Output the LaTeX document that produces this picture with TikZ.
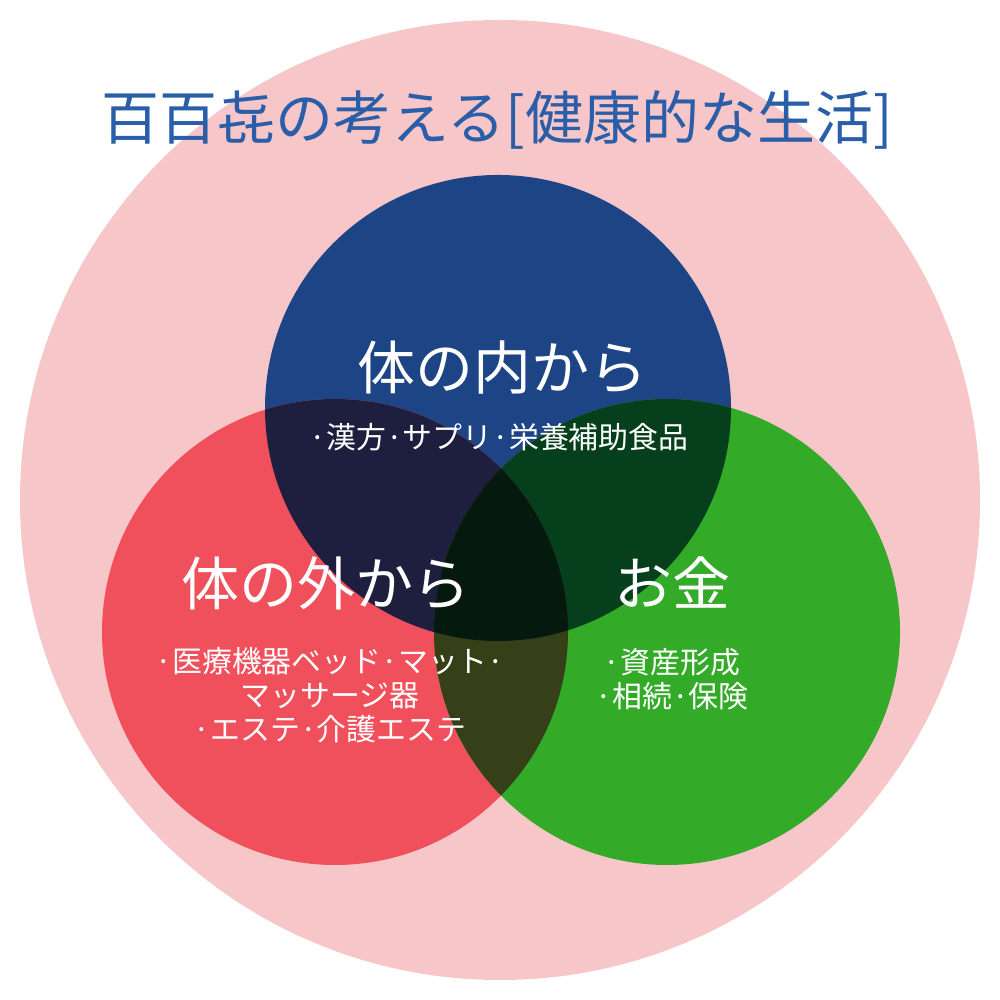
\documentclass[tikz,border=0pt]{standalone}
\usepackage{fontspec}
\setmainfont{Noto Sans CJK JP}
\definecolor{pinkbg}{HTML}{F7C6C9}
\definecolor{cblue}{HTML}{1D4585}
\definecolor{cred}{HTML}{F0505B}
\definecolor{cgreen}{HTML}{33AA28}
\definecolor{rb}{HTML}{1E1E3E}
\definecolor{bg}{HTML}{063F1C}
\definecolor{rg}{HTML}{354019}
\definecolor{ctr}{HTML}{06190E}
\definecolor{titlec}{HTML}{2A5EA8}
\tikzset{big/.style={text=white,font=\fontsize{16.5}{19}\selectfont},
small/.style={text=white,font=\fontsize{8.5}{9.7}\selectfont,align=center}}
\begin{document}
\begin{tikzpicture}
\useasboundingbox (0,0) rectangle (10,10);
\def\B{(4.98,5.92) circle (2.33)}
\def\R{(3.35,3.68) circle (2.33)}
\def\G{(6.67,3.68) circle (2.33)}
\fill[pinkbg] (5,5) circle (4.8);
\fill[cblue] \B; \fill[cred] \R; \fill[cgreen] \G;
\begin{scope}\clip \B; \fill[rb] \R; \fill[bg] \G; \end{scope}
\begin{scope}\clip \R; \fill[rg] \G; \end{scope}
\begin{scope}\clip \B; \clip \R; \fill[ctr] \G; \end{scope}
\node[text=titlec,font=\fontsize{16.5}{19}\selectfont] (title) at (4.97,8.8) {百百㐂の考える[健康的な生活]};
\node[big] (inner) at (5.02,6.32) {体の内から};
\node[small] (innert) at (4.99,5.63) {·漢方·サプリ·栄養補助食品};
\node[big] (outer) at (3.26,4.17) {体の外から};
\node[small] (outert) at (3.30,3.05) {·医療機器ベッド·マット·\\マッサージ器\\·エステ·介護エステ};
\node[big] (money) at (6.72,4.17) {お金};
\node[small] (moneyt) at (6.72,3.21) {·資産形成\\·相続·保険};
\end{tikzpicture}
\end{document}
